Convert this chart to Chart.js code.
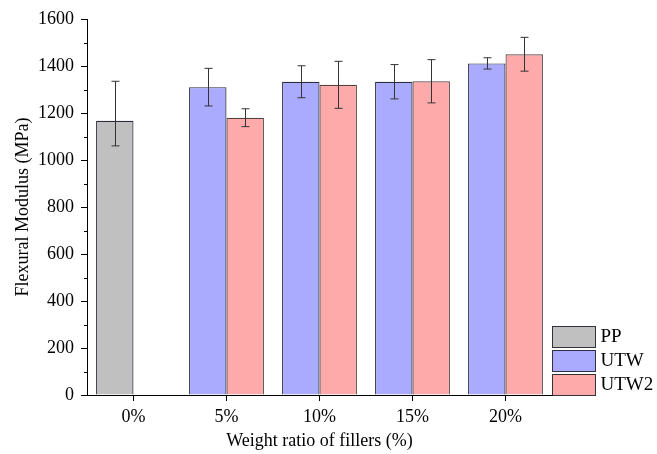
<!DOCTYPE html>
<html>
<head>
<meta charset="utf-8">
<script src="https://cdn.jsdelivr.net/npm/chart.js@4"></script>
<style>
  body { margin: 0; background: #fff; }
  #wrap { width: 657px; height: 454px; }
</style>
</head>
<body>
<div id="wrap"><canvas id="chart" width="657" height="454"></canvas></div>
<script>
// Values
const categories = ["0%", "5%", "10%", "15%", "20%"];

const ppValues = [1167, null, null, null, null];
const ppErrUp = [168, null, null, null, null];
const ppErrDown = [107, null, null, null, null];

const utwValues = [null, 1310, 1333, 1333, 1411];
const utwErrUp = [null, 80, 68, 73, 24];
const utwErrDown = [null, 80, 68, 73, 24];

const utw2Values = [null, 1180, 1320, 1335, 1450];
const utw2ErrUp = [null, 38, 100, 92, 72];
const utw2ErrDown = [null, 38, 100, 92, 72];

const yTicks = [0, 200, 400, 600, 800, 1000, 1200, 1400, 1600];

const FONT = "'Liberation Serif', 'Times New Roman', serif";

// error bars drawn on top of each bar
const errorBars = {
    id: "errorBars",
    afterDatasetsDraw(chart) {
        const ctx = chart.ctx;
        const yScale = chart.scales.y;
        ctx.save();
        ctx.strokeStyle = "#333";
        ctx.lineWidth = 1;
        chart.data.datasets.forEach((ds, di) => {
            const meta = chart.getDatasetMeta(di);
            ds.data.forEach((v, i) => {
                if (v === null) return;
                const x = Math.round(meta.data[i].x) + 0.5;
                const yTop = yScale.getPixelForValue(v + ds.errUp[i]);
                const yBot = yScale.getPixelForValue(v - ds.errDown[i]);
                ctx.beginPath();
                ctx.moveTo(x, yTop);
                ctx.lineTo(x, yBot);
                ctx.moveTo(x - 4, yTop);
                ctx.lineTo(x + 4, yTop);
                ctx.moveTo(x - 4, yBot);
                ctx.lineTo(x + 4, yBot);
                ctx.stroke();
            });
        });
        ctx.restore();
    }
};

// minor ticks on y axis + legend boxes at lower right
const extras = {
    id: "extras",
    afterDraw(chart) {
        const ctx = chart.ctx;
        const yScale = chart.scales.y;
        const left = chart.chartArea.left;
        ctx.save();
        ctx.strokeStyle = "#000";
        ctx.lineWidth = 1;
        for (let v = 100; v < 1600; v += 200) {
            const y = Math.round(yScale.getPixelForValue(v)) + 0.5;
            ctx.beginPath();
            ctx.moveTo(left - 3, y);
            ctx.lineTo(left, y);
            ctx.stroke();
        }

        // legend
        const bx = chart.chartArea.right + 0.5;
        let by = 326.5;
        ctx.font = "19px " + FONT;
        ctx.textBaseline = "middle";
        ctx.textAlign = "left";
        chart.data.datasets.forEach((ds) => {
            ctx.fillStyle = ds.backgroundColor;
            ctx.fillRect(bx, by, 43, 21);
            ctx.strokeStyle = "rgba(20,20,30,0.85)";
            ctx.strokeRect(bx, by, 43, 21);
            ctx.fillStyle = "#000";
            ctx.fillText(ds.label, bx + 48, by + 11);
            by += 24;
        });
        ctx.restore();
    }
};

new Chart(document.getElementById("chart"), {
    type: "bar",
    data: {
        labels: categories,
        datasets: [
            {
                label: "PP",
                data: ppValues,
                errUp: ppErrUp,
                errDown: ppErrDown,
                stack: "a",
                backgroundColor: "#c0c0c0",
                borderColor: "rgba(20,20,40,0.9)",
                borderWidth: 1.2
            },
            {
                label: "UTW",
                data: utwValues,
                errUp: utwErrUp,
                errDown: utwErrDown,
                stack: "a",
                backgroundColor: "#aaaaff",
                borderColor: "rgba(20,20,40,0.9)",
                borderWidth: 1.2
            },
            {
                label: "UTW2",
                data: utw2Values,
                errUp: utw2ErrUp,
                errDown: utw2ErrDown,
                stack: "b",
                backgroundColor: "#ffaaaa",
                borderColor: "rgba(40,20,20,0.8)",
                borderWidth: 1.2
            }
        ]
    },
    options: {
        responsive: false,
        animation: false,
        devicePixelRatio: 1,
        layout: { padding: { top: 19, right: 105, left: 0, bottom: 0 } },
        datasets: {
            bar: { categoryPercentage: 0.805, barPercentage: 1 }
        },
        plugins: {
            legend: { display: false },
            tooltip: { enabled: false }
        },
        scales: {
            x: {
                offset: true,
                grid: { display: true, offset: false, drawOnChartArea: false, drawTicks: true, tickLength: 6, color: "#000" },
                border: { display: true, color: "#000", width: 1 },
                ticks: { color: "#000", font: { family: FONT, size: 18 }, padding: 5, maxRotation: 0 },
                title: {
                    display: true,
                    text: "Weight ratio of fillers (%)",
                    color: "#000",
                    font: { family: FONT, size: 18 },
                    padding: { top: 0, bottom: 2 }
                },
                afterFit(scale) { scale.height = 59; }
            },
            y: {
                stacked: true,
                min: 0,
                max: 1600,
                afterBuildTicks(scale) {
                    scale.ticks = yTicks.map(v => ({ value: v }));
                },
                grid: { display: true, drawOnChartArea: false, drawTicks: true, tickLength: 6, color: "#000" },
                border: { display: true, color: "#000", width: 1 },
                ticks: {
                    color: "#000",
                    font: { family: FONT, size: 18 },
                    padding: 7,
                    callback: (v) => String(v)
                },
                title: {
                    display: true,
                    text: "Flexural Modulus (MPa)",
                    color: "#000",
                    font: { family: FONT, size: 18 },
                    padding: { top: 12, bottom: 0 }
                },
                afterFit(scale) { scale.width = 87; }
            }
        }
    },
    plugins: [errorBars, extras]
});
</script>
</body>
</html>
